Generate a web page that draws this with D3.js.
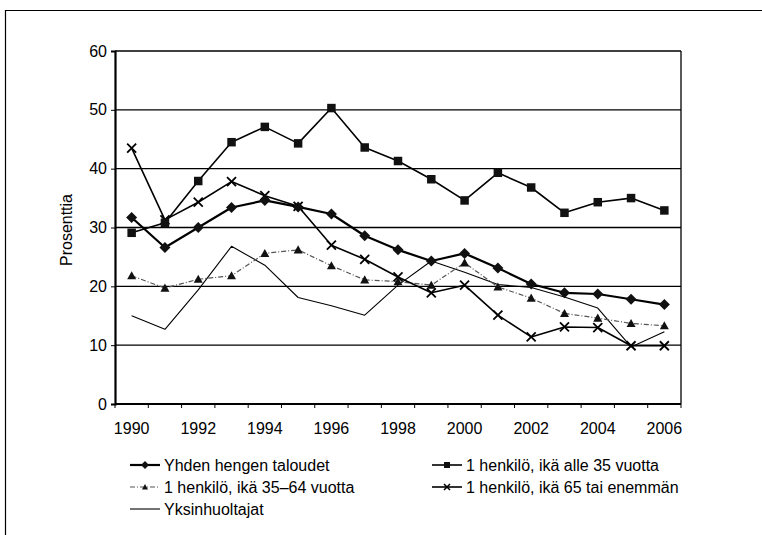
<!DOCTYPE html>
<html>
<head>
<meta charset="utf-8">
<script src="https://cdn.jsdelivr.net/npm/d3@7"></script>
<style>
	body { margin: 0; background: #fff; }
	svg { display: block; font-family: "Liberation Sans", Arial, sans-serif; }
</style>
</head>
<body>
<div id="chart"></div>
<script>
const years = d3.range(1990, 2007)
const yTicks = [0, 10, 20, 30, 40, 50, 60]

const yhdenHengen = [31.7, 26.6, 30.0, 33.4, 34.6, 33.5, 32.3, 28.6, 26.2, 24.3, 25.6, 23.1, 20.4, 18.9, 18.7, 17.8, 16.9]
const alle35 = [29.1, 30.8, 37.9, 44.5, 47.1, 44.3, 50.3, 43.6, 41.3, 38.2, 34.6, 39.3, 36.8, 32.5, 34.3, 35.0, 32.9]
const ika35to64 = [21.8, 19.7, 21.2, 21.8, 25.6, 26.2, 23.5, 21.1, 20.8, 20.2, 24.0, 19.9, 18.0, 15.4, 14.6, 13.7, 13.3]
const ika65plus = [43.5, 31.3, 34.3, 37.8, 35.4, 33.6, 27.0, 24.6, 21.6, 18.9, 20.2, 15.1, 11.4, 13.1, 13.0, 9.9, 9.9]
const yksinhuoltajat = [15.0, 12.7, 19.4, 26.8, 23.6, 18.1, 16.7, 15.1, 20.2, 24.3, 22.4, 20.3, 19.8, 18.2, 16.3, 9.7, 12.3]

const series = [
	{ name: "Yhden hengen taloudet", values: yhdenHengen, marker: "diamond", width: 2.2, color: "#000", dash: null },
	{ name: "1 henkilö, ikä alle 35 vuotta", values: alle35, marker: "square", width: 1.6, color: "#000", dash: null },
	{ name: "1 henkilö, ikä 35–64 vuotta", values: ika35to64, marker: "triangle", width: 1.2, color: "#555", dash: "5,2,1,2" },
	{ name: "1 henkilö, ikä 65 tai enemmän", values: ika65plus, marker: "cross", width: 1.6, color: "#000", dash: null },
	{ name: "Yksinhuoltajat", values: yksinhuoltajat, marker: null, width: 1.1, color: "#000", dash: null }
]

const width = 762
const height = 535
const plot = { left: 115, right: 681, top: 51, bottom: 404 }

const svg = d3.select("#chart").append("svg").attr("width", width).attr("height", height)

// outer frame
svg.append("path")
	.attr("d", `M 5.5 ${height} V 10.5 H ${width}`)
	.attr("fill", "none")
	.attr("stroke", "#000")
	.attr("stroke-width", 1.2)

const x = d3.scaleBand().domain(years).range([plot.left, plot.right])
const y = d3.scaleLinear().domain([0, 60]).range([plot.bottom, plot.top])
const cx = d => x(d) + x.bandwidth() / 2

// gridlines
svg.append("g")
	.selectAll("line")
	.data(yTicks.filter(d => d > 0))
	.join("line")
	.attr("x1", plot.left)
	.attr("x2", plot.right)
	.attr("y1", d => y(d))
	.attr("y2", d => y(d))
	.attr("stroke", "#000")
	.attr("stroke-width", 1.3)

// right border
svg.append("line")
	.attr("x1", plot.right).attr("x2", plot.right)
	.attr("y1", plot.top).attr("y2", plot.bottom)
	.attr("stroke", "#000").attr("stroke-width", 1.3)

// y axis
const gy = svg.append("g")
	.attr("transform", `translate(${plot.left},0)`)
	.call(d3.axisLeft(y).tickValues(yTicks).tickSize(4).tickPadding(4))
gy.select(".domain").attr("stroke-width", 2.2)
gy.selectAll("text").attr("font-size", 16).attr("fill", "#000")

// x axis, ticks at category boundaries
svg.append("line")
	.attr("x1", plot.left).attr("x2", plot.right)
	.attr("y1", plot.bottom).attr("y2", plot.bottom)
	.attr("stroke", "#000").attr("stroke-width", 2.2)

svg.append("g")
	.selectAll("line")
	.data(years.concat([2007]))
	.join("line")
	.attr("x1", (d, i) => plot.left + i * x.step())
	.attr("x2", (d, i) => plot.left + i * x.step())
	.attr("y1", plot.bottom)
	.attr("y2", plot.bottom + 4)
	.attr("stroke", "#000")

svg.append("g")
	.selectAll("text")
	.data(years.filter(d => d % 2 === 0))
	.join("text")
	.attr("x", d => cx(d))
	.attr("y", 434)
	.attr("text-anchor", "middle")
	.attr("font-size", 16)
	.text(d => d)

svg.append("text")
	.attr("transform", `translate(72,230) rotate(-90)`)
	.attr("text-anchor", "middle")
	.attr("font-size", 16)
	.text("Prosenttia")

const markerPath = (type, size) => {
	const s = size / 2
	switch (type) {
		case "diamond": return `M 0 ${-s - 1} L ${s + 1} 0 L 0 ${s + 1} L ${-s - 1} 0 Z`
		case "square": return `M ${-s} ${-s} h ${size} v ${size} h ${-size} Z`
		case "triangle": return `M 0 ${-s} L ${s} ${s * 0.8} L ${-s} ${s * 0.8} Z`
		case "cross": return `M ${-s} ${-s} L ${s} ${s} M ${s} ${-s} L ${-s} ${s}`
	}
}

const drawMarker = (g, type) => {
	if (!type) return
	if (type === "cross") {
		g.append("path").attr("d", markerPath(type, 9)).attr("stroke", "#000").attr("stroke-width", 1.8).attr("fill", "none")
	} else {
		g.append("path").attr("d", markerPath(type, type === "square" ? 8.5 : 9)).attr("fill", "#111")
	}
}

const line = d3.line().x((d, i) => cx(years[i])).y(d => y(d))

// draw back to front
const drawOrder = [4, 2, 3, 1, 0]
drawOrder.forEach(k => {
	const s = series[k]
	svg.append("path")
		.datum(s.values)
		.attr("d", line)
		.attr("fill", "none")
		.attr("stroke", s.color)
		.attr("stroke-width", s.width)
		.attr("stroke-dasharray", s.dash)
		.attr("stroke-linejoin", "round")
	s.values.forEach((v, i) => {
		const g = svg.append("g").attr("transform", `translate(${cx(years[i])},${y(v)})`)
		drawMarker(g, s.marker)
	})
})

// legend
const legendPos = [
	{ x: 130, y: 465 },
	{ x: 432, y: 465 },
	{ x: 130, y: 487 },
	{ x: 432, y: 487 },
	{ x: 130, y: 509 }
]
series.forEach((s, k) => {
	const p = legendPos[k]
	const g = svg.append("g").attr("transform", `translate(${p.x},${p.y})`)
	g.append("line")
		.attr("x1", 0).attr("x2", 30)
		.attr("stroke", s.color)
		.attr("stroke-width", s.width)
		.attr("stroke-dasharray", s.dash)
	const mg = g.append("g").attr("transform", "translate(15,0)")
	if (s.marker) {
		mg.append("path")
			.attr("d", markerPath(s.marker, 6))
			.attr("fill", s.marker === "cross" ? "none" : "#111")
			.attr("stroke", s.marker === "cross" ? "#000" : null)
			.attr("stroke-width", 1.5)
	}
	g.append("text")
		.attr("x", 34)
		.attr("y", 5.5)
		.attr("font-size", 16)
		.text(s.name)
})
</script>
</body>
</html>
